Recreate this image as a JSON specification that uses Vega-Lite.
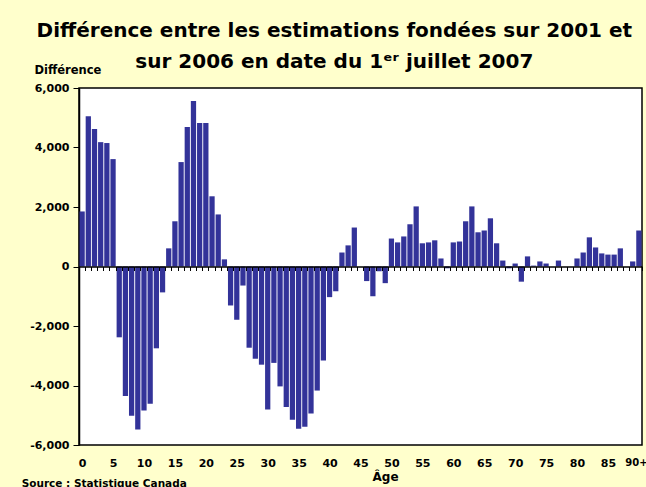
{
  "$schema": "https://vega.github.io/schema/vega-lite/v6.json",
  "background": "#FFFFCC",
  "padding": {"left": 20, "top": 21, "right": 0, "bottom": 0},
  "title": {
    "text": ["Différence entre les estimations fondées sur 2001 et", "sur 2006 en date du 1ᵉʳ juillet 2007"],
    "font": "DejaVu Sans",
    "fontSize": 20,
    "fontWeight": "bold",
    "color": "black",
    "lineHeight": 31,
    "anchor": "middle",
    "offset": -9
  },
  "vconcat": [
    {
      "width": 563,
      "height": 357,
      "title": {
        "text": "Source : Statistique Canada",
        "orient": "bottom",
        "anchor": "start",
        "frame": "bounds",
        "font": "DejaVu Sans",
        "fontSize": 10.5,
        "fontWeight": "bold",
        "color": "black",
        "dx": -8,
        "offset": -4
      },
      "data": {
        "values": [
          {"age": "0", "diff": 1850}, {"age": "1", "diff": 5050}, {"age": "2", "diff": 4620}, {"age": "3", "diff": 4180}, {"age": "4", "diff": 4150},
          {"age": "5", "diff": 3610}, {"age": "6", "diff": -2380}, {"age": "7", "diff": -4350}, {"age": "8", "diff": -5020}, {"age": "9", "diff": -5480},
          {"age": "10", "diff": -4840}, {"age": "11", "diff": -4610}, {"age": "12", "diff": -2750}, {"age": "13", "diff": -870}, {"age": "14", "diff": 610},
          {"age": "15", "diff": 1520}, {"age": "16", "diff": 3510}, {"age": "17", "diff": 4690}, {"age": "18", "diff": 5560}, {"age": "19", "diff": 4820},
          {"age": "20", "diff": 4820}, {"age": "21", "diff": 2360}, {"age": "22", "diff": 1750}, {"age": "23", "diff": 240}, {"age": "24", "diff": -1310},
          {"age": "25", "diff": -1790}, {"age": "26", "diff": -640}, {"age": "27", "diff": -2730}, {"age": "28", "diff": -3100}, {"age": "29", "diff": -3300},
          {"age": "30", "diff": -4810}, {"age": "31", "diff": -3240}, {"age": "32", "diff": -4030}, {"age": "33", "diff": -4720}, {"age": "34", "diff": -5150},
          {"age": "35", "diff": -5450}, {"age": "36", "diff": -5390}, {"age": "37", "diff": -4940}, {"age": "38", "diff": -4170}, {"age": "39", "diff": -3160},
          {"age": "40", "diff": -1030}, {"age": "41", "diff": -830}, {"age": "42", "diff": 470}, {"age": "43", "diff": 710}, {"age": "44", "diff": 1310},
          {"age": "45", "diff": 0}, {"age": "46", "diff": -490}, {"age": "47", "diff": -1000}, {"age": "48", "diff": -160}, {"age": "49", "diff": -560},
          {"age": "50", "diff": 940}, {"age": "51", "diff": 810}, {"age": "52", "diff": 1010}, {"age": "53", "diff": 1420}, {"age": "54", "diff": 2020},
          {"age": "55", "diff": 780}, {"age": "56", "diff": 810}, {"age": "57", "diff": 880}, {"age": "58", "diff": 270}, {"age": "59", "diff": -60},
          {"age": "60", "diff": 810}, {"age": "61", "diff": 840}, {"age": "62", "diff": 1520}, {"age": "63", "diff": 2020}, {"age": "64", "diff": 1150},
          {"age": "65", "diff": 1210}, {"age": "66", "diff": 1620}, {"age": "67", "diff": 780}, {"age": "68", "diff": 200}, {"age": "69", "diff": -60},
          {"age": "70", "diff": 100}, {"age": "71", "diff": -510}, {"age": "72", "diff": 340}, {"age": "73", "diff": 30}, {"age": "74", "diff": 170},
          {"age": "75", "diff": 100}, {"age": "76", "diff": 0}, {"age": "77", "diff": 200}, {"age": "78", "diff": 0}, {"age": "79", "diff": 0},
          {"age": "80", "diff": 270}, {"age": "81", "diff": 470}, {"age": "82", "diff": 980}, {"age": "83", "diff": 640}, {"age": "84", "diff": 440},
          {"age": "85", "diff": 400}, {"age": "86", "diff": 400}, {"age": "87", "diff": 610}, {"age": "88", "diff": 0}, {"age": "89", "diff": 170},
          {"age": "90+", "diff": 1210}
        ]
      },
      "mark": {"type": "bar", "color": "#333399"},
      "encoding": {
        "x": {
          "field": "age",
          "type": "ordinal",
          "sort": null,
          "scale": {"paddingInner": 0.15, "paddingOuter": 0.08},
          "axis": {
            "offset": -178.5,
            "zindex": 1,
            "domainColor": "black",
            "domainWidth": 1.5,
            "ticks": true,
            "tickBand": "extent",
            "tickSize": 4,
            "tickColor": "black",
            "tickWidth": 1,
            "labelPadding": 187,
            "labelAngle": 0,
            "labelOverlap": false,
            "labelOffset": {"expr": "datum.value == '90+' ? -3 : 0"},
            "labelExpr": "datum.value == '90+' || toNumber(datum.value) % 5 == 0 ? datum.value : ''",
            "labelFont": "DejaVu Sans",
            "labelFontSize": {"expr": "datum.value == '90+' ? 10 : 11"},
            "labelFontWeight": "bold",
            "labelColor": "black",
            "title": "Âge",
            "titleFont": "DejaVu Sans",
            "titleFontSize": 12,
            "titleFontWeight": "bold",
            "titleColor": "black",
            "titleX": 306,
            "titleY": 214,
            "titleAlign": "center",
            "titleBaseline": "alphabetic"
          }
        },
        "y": {
          "field": "diff",
          "type": "quantitative",
          "scale": {"domain": [-6000, 6000], "nice": false},
          "axis": {
            "values": [-6000, -4000, -2000, 0, 2000, 4000, 6000],
            "format": ",d",
            "labelExpr": "replace(datum.label, '\u2212', '-')",
            "grid": false,
            "domainColor": "black",
            "domainWidth": 1.5,
            "tickSize": 6,
            "tickColor": "black",
            "labelPadding": 4,
            "labelFont": "DejaVu Sans",
            "labelFontSize": 11,
            "labelFontWeight": "bold",
            "labelColor": "black",
            "title": "Différence",
            "titleFont": "DejaVu Sans",
            "titleFontSize": 11.5,
            "titleFontWeight": "bold",
            "titleColor": "black",
            "titleAngle": 0,
            "titleAlign": "left",
            "titleBaseline": "alphabetic",
            "titleX": -45,
            "titleY": -15
          }
        }
      }
    }
  ],
  "config": {
    "view": {"stroke": "black", "strokeWidth": 1.5, "fill": "white"}
  }
}
